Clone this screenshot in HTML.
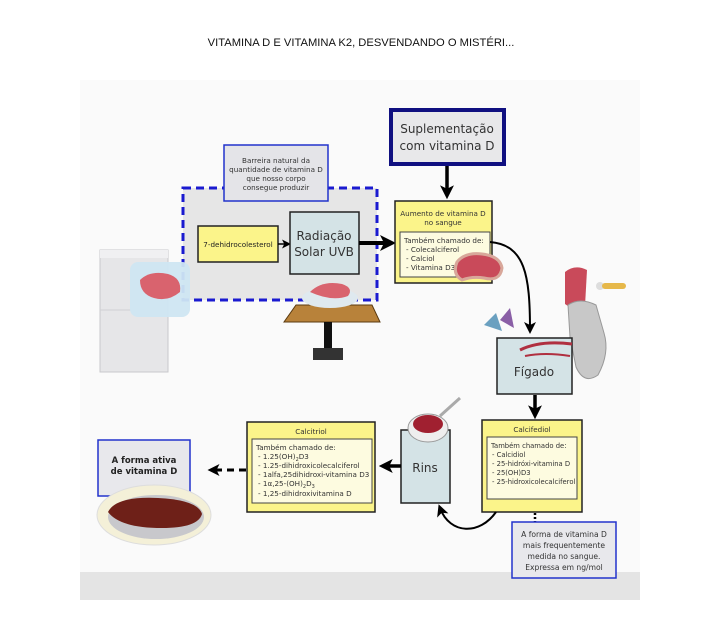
<!DOCTYPE html>
<html><head><meta charset="utf-8">
<style>
html,body{margin:0;padding:0;background:#fff;}
body{width:720px;height:615px;overflow:hidden;font-family:"DejaVu Sans","Liberation Sans",sans-serif;}
</style></head><body>
<svg width="720" height="615" viewBox="0 0 720 615" xmlns="http://www.w3.org/2000/svg" font-family="DejaVu Sans, Liberation Sans, sans-serif">
<defs>
<marker id="ah" markerWidth="4" markerHeight="4" refX="2.5" refY="2" orient="auto"><path d="M0,0 L4,2 L0,4 L1,2 z" fill="#000"/></marker>
<marker id="ahs" markerWidth="6" markerHeight="6" refX="4" refY="3" orient="auto"><path d="M0,0 L6,3 L0,6 L1.5,3 z" fill="#000"/></marker>
</defs>
<text x="361" y="46" text-anchor="middle" font-family="Liberation Sans, sans-serif" font-size="11.2" fill="#111">VITAMINA D E VITAMINA K2, DESVENDANDO O MISTÉRI...</text>
<rect x="80" y="80" width="560" height="520" fill="#fafafa"/>
<rect x="80" y="572" width="560" height="28" fill="#e4e4e4"/>

<!-- fridge -->
<rect x="100" y="250" width="68" height="122" fill="#e6e6e8" stroke="#c8c8cc"/>
<rect x="100" y="250" width="68" height="8" fill="#f0f0f2"/>
<line x1="100" y1="310" x2="168" y2="310" stroke="#d0d0d4"/>

<!-- dashed region -->
<rect x="183" y="188" width="194" height="112" fill="#e6e6e6" stroke="#1a1ad0" stroke-width="3" stroke-dasharray="8,5"/>
<rect x="130" y="262" width="60" height="55" rx="8" fill="#cfe6f2" opacity="0.95"/>
<path d="M140,280 q10,-10 28,-6 q14,4 12,18 q-12,10 -26,6 q-14,-4 -14,-18z" fill="#d9636e"/>
<!-- barreira -->
<rect x="224" y="145" width="104" height="56" fill="#e4e4e8" stroke="#2233cc" stroke-width="1.5"/>
<g font-size="7.2" fill="#333" text-anchor="middle">
<text x="276" y="163">Barreira natural da</text>
<text x="276" y="172">quantidade de vitamina D</text>
<text x="276" y="181">que nosso corpo</text>
<text x="276" y="190">consegue produzir</text>
</g>
<rect x="198" y="226" width="80" height="36" fill="#fbf48a" stroke="#222" stroke-width="1.5"/>
<text x="238" y="247" font-size="7.2" text-anchor="middle" fill="#222">7-dehidrocolesterol</text>
<line x1="278" y1="244" x2="288" y2="244" stroke="#000" stroke-width="1.5" marker-end="url(#ahs)"/>
<rect x="290" y="212" width="69" height="62" fill="#d4e3e6" stroke="#222" stroke-width="1.5"/>
<text x="324" y="240" font-size="12" text-anchor="middle" fill="#333">Radiação</text>
<text x="324" y="256" font-size="12" text-anchor="middle" fill="#333">Solar UVB</text>
<line x1="359" y1="243" x2="390" y2="243" stroke="#000" stroke-width="4" marker-end="url(#ah)"/>

<!-- suplementacao -->
<rect x="391" y="110" width="113" height="54" fill="#e8e8ea" stroke="#101080" stroke-width="4"/>
<text x="447" y="133" font-size="12" text-anchor="middle" fill="#333">Suplementação</text>
<text x="447" y="150" font-size="12" text-anchor="middle" fill="#333">com vitamina D</text>
<line x1="447" y1="166" x2="447" y2="194" stroke="#000" stroke-width="3.5" marker-end="url(#ah)"/>

<!-- aumento -->
<rect x="395" y="201" width="97" height="82" fill="#fbf48a" stroke="#222" stroke-width="1.5"/>
<text x="443" y="216" font-size="7.2" text-anchor="middle" fill="#333">Aumento de vitamina D</text>
<text x="443" y="225" font-size="7.2" text-anchor="middle" fill="#333">no sangue</text>
<rect x="400" y="232" width="90" height="45" fill="#fdfbe0" stroke="#444" stroke-width="1"/>
<g font-size="7.2" fill="#333"><text x="404" y="243">Também chamado de:</text><text x="406" y="252">- Colecalciferol</text><text x="406" y="261">- Calciol</text><text x="406" y="270">- Vitamina D3</text></g>
<path d="M490,242 C525,245 530,275 530,330" fill="none" stroke="#000" stroke-width="2" marker-end="url(#ahs)"/>
<path d="M457,262 q8,-10 25,-8 q18,2 20,14 q-2,14 -18,10 q-12,-2 -22,2 q-10,-6 -5,-18z" fill="#c94a5a" stroke="#d8a79a" stroke-width="3"/>

<!-- table -->
<path d="M296,305 L372,305 L380,322 L284,322z" fill="#b8823a" stroke="#5a3a10"/>
<rect x="324" y="322" width="8" height="28" fill="#111"/>
<rect x="313" y="348" width="30" height="12" fill="#333"/>
<ellipse cx="330" cy="298" rx="28" ry="10" fill="#dfe9ef"/>
<path d="M310,292 q12,-12 32,-8 q12,4 6,12 q-16,6 -38,-4z" fill="#d9636e"/>

<!-- grinder decoration -->
<path d="M565,272 q10,-8 22,-2 l-2,36 q-10,6 -20,-2z" fill="#c94a5a"/>
<path d="M568,305 q12,-8 28,0 l8,28 q6,20 -6,42 q-14,10 -22,-8 l-6,-30z" fill="#c8c8c8" stroke="#999"/>
<circle cx="600" cy="286" r="4" fill="#ddd"/><rect x="602" y="283" width="24" height="6" rx="3" fill="#e6b84a"/>
<path d="M484,325 l12,-12 l6,18 z" fill="#6aa0c0"/><path d="M500,320 l10,-12 l4,20 z" fill="#8a5fa6"/>

<!-- fígado -->
<rect x="497" y="338" width="75" height="56" fill="#d4e3e6" stroke="#222" stroke-width="1.5"/>
<text x="534" y="376" font-size="12" text-anchor="middle" fill="#333">Fígado</text>
<path d="M520,350 q20,-10 52,-6" stroke="#b03040" stroke-width="3" fill="none"/>
<path d="M525,356 q20,-4 45,0" stroke="#b03040" stroke-width="2" fill="none"/>
<line x1="535" y1="395" x2="535" y2="414" stroke="#000" stroke-width="3.5" marker-end="url(#ah)"/>

<!-- calcifediol -->
<rect x="482" y="420" width="100" height="92" fill="#fbf48a" stroke="#222" stroke-width="1.5"/>
<text x="532" y="432" font-size="7.2" text-anchor="middle" fill="#333">Calcifediol</text>
<rect x="487" y="437" width="90" height="62" fill="#fdfbe0" stroke="#444" stroke-width="1"/>
<g font-size="6.8" fill="#333"><text x="491" y="448">Também chamado de:</text><text x="492" y="457">- Calcidiol</text><text x="492" y="466">- 25-hidróxi-vitamina D</text><text x="492" y="475">- 25(OH)D3</text><text x="492" y="484">- 25-hidroxicolecalciferol</text></g>
<line x1="535" y1="513" x2="535" y2="522" stroke="#000" stroke-width="2.5" stroke-dasharray="2,2"/>
<rect x="512" y="522" width="104" height="56" fill="#e8e8ec" stroke="#2233cc" stroke-width="1.5"/>
<g font-size="7.6" fill="#333" text-anchor="middle"><text x="564" y="537">A forma de vitamina D</text><text x="564" y="548">mais frequentemente</text><text x="564" y="559">medida no sangue.</text><text x="564" y="570">Expressa em ng/mol</text></g>
<path d="M496,512 C480,535 450,535 440,508" fill="none" stroke="#000" stroke-width="2" marker-end="url(#ahs)"/>

<!-- rins -->
<rect x="401" y="430" width="49" height="73" fill="#d4e3e6" stroke="#222" stroke-width="1.5"/>
<text x="425" y="472" font-size="12" text-anchor="middle" fill="#333">Rins</text>
<ellipse cx="428" cy="428" rx="20" ry="14" fill="#eee" stroke="#999"/>
<ellipse cx="428" cy="424" rx="15" ry="9" fill="#a02030"/>
<line x1="440" y1="416" x2="460" y2="398" stroke="#aaa" stroke-width="3"/>
<line x1="401" y1="466" x2="384" y2="466" stroke="#000" stroke-width="3.5" marker-end="url(#ah)"/>

<!-- calcitriol -->
<rect x="247" y="422" width="128" height="90" fill="#fbf48a" stroke="#222" stroke-width="1.5"/>
<text x="311" y="434" font-size="7.2" text-anchor="middle" fill="#333">Calcitriol</text>
<rect x="252" y="439" width="120" height="64" fill="#fdfbe0" stroke="#444" stroke-width="1"/>
<g font-size="7.2" fill="#333"><text x="256" y="450">Também chamado de:</text><text x="258" y="459">- 1.25(OH)<tspan font-size="5" dy="2">2</tspan><tspan dy="-2">D3</tspan></text><text x="258" y="468">- 1.25-dihidroxicolecalciferol</text><text x="258" y="477">- 1alfa,25dihidroxi-vitamina D3</text><text x="258" y="486">- 1α,25-(OH)<tspan font-size="5" dy="2">2</tspan><tspan dy="-2">D</tspan><tspan font-size="5" dy="2">3</tspan></text><text x="258" y="496">- 1,25-dihidroxivitamina D</text></g>
<line x1="246" y1="470" x2="212" y2="470" stroke="#000" stroke-width="3" stroke-dasharray="7,5" marker-end="url(#ah)"/>

<!-- active form -->
<rect x="98" y="440" width="92" height="56" fill="#e8e8ec" stroke="#2233cc" stroke-width="1.5"/>
<text x="144" y="463" font-size="8.5" font-weight="bold" text-anchor="middle" fill="#222">A forma ativa</text>
<text x="144" y="474" font-size="8.5" font-weight="bold" text-anchor="middle" fill="#222">de vitamina D</text>
<ellipse cx="154" cy="515" rx="57" ry="30" fill="#f4f0d8" stroke="#ddd"/>
<ellipse cx="156" cy="517" rx="48" ry="22" fill="#c8c8cc"/>
<path d="M108,512 q8,-16 50,-14 q40,2 44,16 q-4,14 -40,14 q-42,0 -54,-16z" fill="#6e2018"/>
</svg>
</body></html>
